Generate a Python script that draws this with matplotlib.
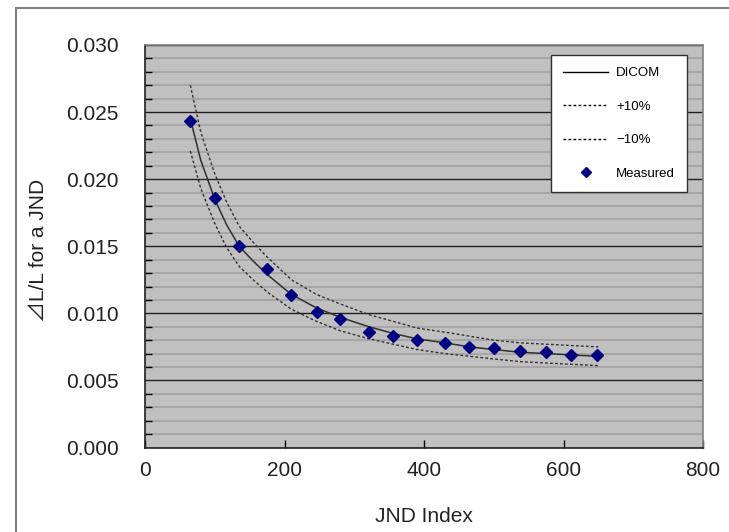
import matplotlib
matplotlib.use("Agg")
import matplotlib.pyplot as plt
from matplotlib.patches import Rectangle
from matplotlib.ticker import MultipleLocator
from matplotlib.lines import Line2D

# ---- data ----
x_curve = [65, 80, 100, 117, 135, 155, 175, 210, 246, 280, 321, 356, 390, 430, 465, 500, 538, 575, 611, 650]
dicom = [0.0245, 0.0214, 0.0185, 0.0166, 0.0150, 0.0139, 0.0129, 0.0114, 0.0104, 0.0097, 0.0090,
         0.0085, 0.0081, 0.0078, 0.0075, 0.0073, 0.0071, 0.0070, 0.0069, 0.0068]
plus10 = [0.0270, 0.0235, 0.0204, 0.0183, 0.0165, 0.0153, 0.0142, 0.0125, 0.0114, 0.0107, 0.0099,
          0.0094, 0.0089, 0.0086, 0.0083, 0.0080, 0.0078, 0.0077, 0.0076, 0.0075]
minus10 = [0.0221, 0.0193, 0.0167, 0.0149, 0.0135, 0.0125, 0.0116, 0.0103, 0.0094, 0.0087, 0.0081,
           0.0077, 0.0073, 0.0070, 0.0068, 0.0066, 0.0064, 0.0063, 0.0062, 0.0061]
x_meas = [65, 100, 135, 175, 210, 246, 280, 321, 356, 390, 430, 465, 500, 538, 575, 611, 648]
measured = [0.0243, 0.0186, 0.0150, 0.0133, 0.0114, 0.0101, 0.0096, 0.0086, 0.0083, 0.0080,
            0.0078, 0.0075, 0.0074, 0.0072, 0.0071, 0.0069, 0.0069]
x_ticks = [0, 200, 400, 600, 800]
y_ticks = [0.000, 0.005, 0.010, 0.015, 0.020, 0.025, 0.030]
legend_labels = ["DICOM", "+10%", "\u221210%", "Measured"]
x_label = "JND Index"
y_label = "\u22bfL/L for a JND"

FONT = ["Liberation Sans", "Noto Sans CJK JP", "DejaVu Sans"]
plt.rcParams["font.family"] = FONT

fig = plt.figure(figsize=(7.29, 5.32), dpi=100)
fig.patch.set_facecolor("white")
# outer chart border
fig.patches.append(Rectangle((16 / 729, -0.05), 1.2, (532 - 8) / 532 + 0.05,
                             transform=fig.transFigure, fill=False,
                             edgecolor="#808080", linewidth=1.5, zorder=0))

ax = fig.add_axes([145 / 729, 1 - 447.5 / 532, (703 - 145) / 729, (447.5 - 45) / 532])
ax.set_facecolor("#c0c0c0")
ax.set_xlim(0, 800)
ax.set_ylim(0, 0.030)

ax.yaxis.set_minor_locator(MultipleLocator(0.001))
ax.set_yticks(y_ticks)
ax.set_yticklabels([f"{v:.3f}" for v in y_ticks])
ax.set_xticks(x_ticks)
ax.set_xticklabels([str(v) for v in x_ticks])

ax.grid(which="minor", axis="y", color="#a6a6a6", linewidth=1.4, zorder=1)
ax.grid(which="major", axis="y", color="#202020", linewidth=1.0, zorder=1)
ax.grid(which="major", axis="x", visible=False)

ax.tick_params(axis="y", which="both", direction="in", length=5, width=1, color="black",
               labelsize=15, pad=19, labelcolor="#222222")
ax.tick_params(axis="y", which="major", length=0)
ax.tick_params(axis="x", which="major", direction="in", length=6, width=1, color="black",
               labelsize=15, pad=10, labelcolor="#222222")

for s in ["left", "bottom"]:
    ax.spines[s].set_color("#202020")
    ax.spines[s].set_linewidth(1.2)
for s in ["top", "right"]:
    ax.spines[s].set_color("#808080")
    ax.spines[s].set_linewidth(1.2)

dash = (0, (2.0, 1.6))
ax.plot(x_curve, plus10, color="#303030", linewidth=1.0, linestyle=dash, zorder=3)
ax.plot(x_curve, minus10, color="#303030", linewidth=1.0, linestyle=dash, zorder=3)
ax.plot(x_curve, dicom, color="#303030", linewidth=1.1, zorder=3)
ax.plot(x_meas, measured, linestyle="none", marker="D", markersize=6.3,
        color="#000080", markeredgecolor="#000080", zorder=4)

ax.set_xlabel(x_label, fontsize=15, color="#222222", labelpad=19)
ax.set_ylabel(y_label, fontsize=15, color="#222222")
ax.yaxis.set_label_coords(-0.172, 0.49)

handles = [
    Line2D([], [], color="black", linewidth=1.0),
    Line2D([], [], color="black", linewidth=1.0, linestyle=dash),
    Line2D([], [], color="black", linewidth=1.0, linestyle=dash),
    Line2D([], [], linestyle="none", marker="D", markersize=5.5, color="#000080"),
]
leg = ax.legend(handles, legend_labels, loc="upper right", bbox_to_anchor=(0.971, 0.975),
                fontsize=9.5, frameon=True, fancybox=False, handlelength=3.4,
                handletextpad=0.6, labelspacing=1.62, borderpad=0.9, borderaxespad=0,
                facecolor="white", framealpha=1.0, edgecolor="#303030")
leg.get_frame().set_linewidth(1.0)

fig.savefig("out.png", dpi=100)
